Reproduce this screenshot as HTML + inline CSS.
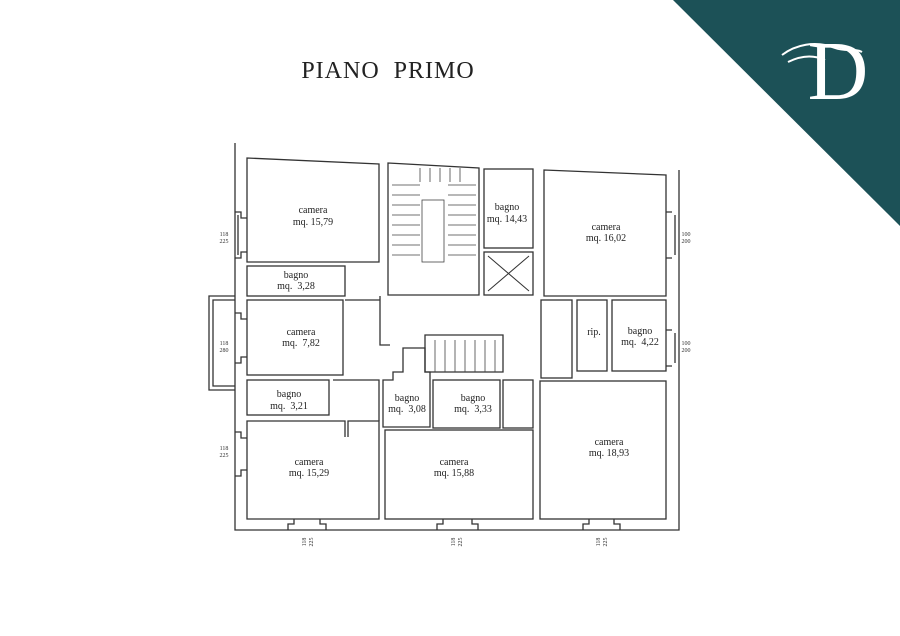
<!DOCTYPE html>
<html><head><meta charset="utf-8"><style>
html,body{margin:0;padding:0;background:#fff;}
svg{display:block}
text{font-family:"Liberation Serif",serif;fill:#222}
.r{fill:none;stroke:#333;stroke-width:1.3}
.t{font-size:10px;text-anchor:middle}
.d{font-size:6px;text-anchor:middle;fill:#333}
</style></head><body>
<svg width="900" height="636" viewBox="0 0 900 636">
<rect width="900" height="636" fill="#fff"/>
<polygon points="673,0 900,0 900,226" fill="#1c5157"/>
<text x="838" y="99" style="font-size:84px;fill:#fff;text-anchor:middle" font-family="Liberation Serif">D</text>
<path d="M782,55 C795,45 815,40 835,48 C845,52 855,48 862,52 M788,62 C800,56 812,54 825,60" stroke="#fff" stroke-width="2" fill="none"/>
<text x="388" y="78" style="font-size:24px;text-anchor:middle;letter-spacing:1px">PIANO&#160; PRIMO</text>

<path class="r" d="M235,143 V530 H679 V170"/>
<path class="r" d="M235,296 H209 V390 H235 M235,300 H213 V386 H235"/>

<path class="r" d="M247,158 L379,164 V262 H247 Z"/>
<rect class="r" x="247" y="266" width="98" height="30"/>
<rect class="r" x="247" y="300" width="96" height="75"/>
<rect class="r" x="247" y="380" width="82" height="35"/>
<path class="r" d="M345,437 V421 H247 V519 H379 V421 H348 V437"/>
<path class="r" d="M333,380 H379 V421"/>
<path class="r" d="M388,163 L479,168 V295 H388 Z"/>
<rect class="r" x="484" y="169" width="49" height="79"/>
<rect class="r" x="484" y="252" width="49" height="43"/>
<path d="M488,256 L529,291 M529,256 L488,291" stroke="#333" stroke-width="1"/>
<path class="r" d="M544,170 L666,175 V296 H544 Z"/>
<rect class="r" x="577" y="300" width="30" height="71"/>
<rect class="r" x="612" y="300" width="54" height="71"/>
<rect class="r" x="541" y="300" width="31" height="78"/>
<rect class="r" x="540" y="381" width="126" height="138"/>
<rect class="r" x="385" y="430" width="148" height="89"/>
<path class="r" d="M383,380 H393 V372 H403 V348 H425 V372 H430 V427 H383 Z"/>
<rect class="r" x="433" y="380" width="67" height="48"/>
<rect class="r" x="503" y="380" width="30" height="48"/>
<path class="r" d="M380,296 V345 H390 M345,300 H380"/>
<path class="r" d="M425,335 H503 V372 H425 Z"/>
<g stroke="#444" stroke-width="0.8">
<path d="M392,185 H420 M392,195 H420 M392,205 H420 M392,215 H420 M392,225 H420 M392,235 H420 M392,245 H420 M392,255 H420"/>
<path d="M448,185 H476 M448,195 H476 M448,205 H476 M448,215 H476 M448,225 H476 M448,235 H476 M448,245 H476 M448,255 H476"/>
<path d="M420,168 V182 M430,168 V182 M440,168 V182 M450,168 V182 M460,168 V182"/>
<rect x="422" y="200" width="22" height="62" fill="none"/>
<path d="M435,340 V372 M445,340 V372 M455,340 V372 M465,340 V372 M475,340 V372 M485,340 V372 M495,340 V372"/>
</g>
<g class="r" stroke-width="0.9">
<path d="M235,212 H241 V218 H247 M235,258 H241 V252 H247 M238,215 V255"/>
<path d="M235,313 H241 V319 H247 M235,363 H241 V357 H247"/>
<path d="M235,432 H241 V438 H247 M235,476 H241 V470 H247"/>
<path d="M672,212 H666 M672,258 H666 M675,215 V255"/>
<path d="M672,330 H666 M672,366 H666 M675,333 V363"/>
<path d="M288,530 V524 H294 V519 M326,530 V524 H320 V519"/>
<path d="M437,530 V524 H443 V519 M478,530 V524 H472 V519"/>
<path d="M583,530 V524 H589 V519 M620,530 V524 H614 V519"/>
</g>
<text class="t" x="313" y="213">camera</text><text class="t" x="313" y="225">mq. 15,79</text>
<text class="t" x="296" y="278">bagno</text><text class="t" x="296" y="289">mq.&#160; 3,28</text>
<text class="t" x="301" y="335">camera</text><text class="t" x="301" y="346">mq.&#160; 7,82</text>
<text class="t" x="289" y="397">bagno</text><text class="t" x="289" y="409">mq.&#160; 3,21</text>
<text class="t" x="309" y="465">camera</text><text class="t" x="309" y="476">mq. 15,29</text>
<text class="t" x="407" y="401">bagno</text><text class="t" x="407" y="412">mq.&#160; 3,08</text>
<text class="t" x="473" y="401">bagno</text><text class="t" x="473" y="412">mq.&#160; 3,33</text>
<text class="t" x="454" y="465">camera</text><text class="t" x="454" y="476">mq. 15,88</text>
<text class="t" x="507" y="210">bagno</text><text class="t" x="507" y="222">mq. 14,43</text>
<text class="t" x="606" y="230">camera</text><text class="t" x="606" y="241">mq. 16,02</text>
<text class="t" x="594" y="335">rip.</text>
<text class="t" x="640" y="334">bagno</text><text class="t" x="640" y="345">mq.&#160; 4,22</text>
<text class="t" x="609" y="445">camera</text><text class="t" x="609" y="456">mq. 18,93</text>
<text class="d" x="224" y="236">118</text><text class="d" x="224" y="243">225</text>
<text class="d" x="224" y="345">118</text><text class="d" x="224" y="352">280</text>
<text class="d" x="224" y="450">118</text><text class="d" x="224" y="457">225</text>
<text class="d" x="686" y="236">100</text><text class="d" x="686" y="243">200</text>
<text class="d" x="686" y="345">100</text><text class="d" x="686" y="352">200</text>
<text class="d" transform="translate(306,542) rotate(-90)">118</text><text class="d" transform="translate(313,542) rotate(-90)">225</text>
<text class="d" transform="translate(455,542) rotate(-90)">118</text><text class="d" transform="translate(462,542) rotate(-90)">225</text>
<text class="d" transform="translate(600,542) rotate(-90)">118</text><text class="d" transform="translate(607,542) rotate(-90)">225</text>
</svg>
</body></html>
